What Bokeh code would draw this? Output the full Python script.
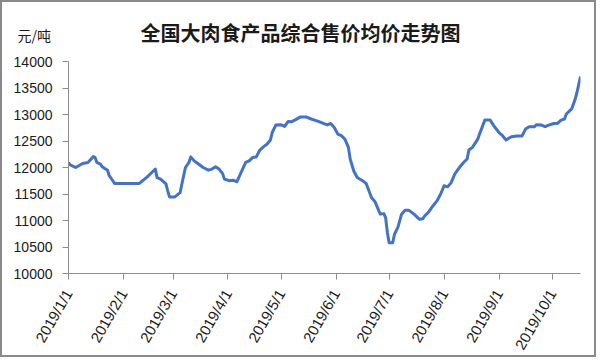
import pandas as pd
from bokeh.plotting import figure
from bokeh.models import Range1d, FixedTicker, CustomJSTickFormatter, Label, ColumnDataSource
from bokeh.embed import file_html
from bokeh.resources import INLINE

title_text = "全国大肉食产品综合售价均价走势图"
unit_text = "元/吨"

dates = [
    "2019-01-01", "2019-01-02", "2019-01-05", "2019-01-09", "2019-01-12", "2019-01-15",
    "2019-01-16", "2019-01-17", "2019-01-19", "2019-01-20", "2019-01-23", "2019-01-24",
    "2019-01-26", "2019-01-27", "2019-02-10", "2019-02-14", "2019-02-17", "2019-02-19",
    "2019-02-20", "2019-02-22", "2019-02-25", "2019-02-26", "2019-02-27", "2019-03-02",
    "2019-03-05", "2019-03-06", "2019-03-08", "2019-03-10", "2019-03-11", "2019-03-13",
    "2019-03-15", "2019-03-18", "2019-03-21", "2019-03-23", "2019-03-25", "2019-03-27",
    "2019-03-29", "2019-03-30", "2019-04-02", "2019-04-04", "2019-04-06", "2019-04-08",
    "2019-04-11", "2019-04-13", "2019-04-15", "2019-04-17", "2019-04-19", "2019-04-21",
    "2019-04-23", "2019-04-25", "2019-04-26", "2019-04-28", "2019-05-01", "2019-05-03",
    "2019-05-05", "2019-05-07", "2019-05-09", "2019-05-12", "2019-05-15", "2019-05-18",
    "2019-05-22", "2019-05-27", "2019-05-29", "2019-05-31", "2019-06-02", "2019-06-04",
    "2019-06-06", "2019-06-08", "2019-06-09", "2019-06-11", "2019-06-13", "2019-06-16",
    "2019-06-18", "2019-06-20", "2019-06-21", "2019-06-23", "2019-06-25", "2019-06-26",
    "2019-06-28", "2019-06-29", "2019-06-30", "2019-07-01", "2019-07-03", "2019-07-04",
    "2019-07-06", "2019-07-08", "2019-07-10", "2019-07-12", "2019-07-15", "2019-07-18",
    "2019-07-20", "2019-07-21", "2019-07-23", "2019-07-25", "2019-07-28", "2019-07-30",
    "2019-08-01", "2019-08-03", "2019-08-05", "2019-08-07", "2019-08-10", "2019-08-12",
    "2019-08-14", "2019-08-15", "2019-08-17", "2019-08-20", "2019-08-21", "2019-08-24",
    "2019-08-27", "2019-08-29", "2019-09-01", "2019-09-03", "2019-09-05", "2019-09-08",
    "2019-09-11", "2019-09-14", "2019-09-16", "2019-09-18", "2019-09-21", "2019-09-22",
    "2019-09-25", "2019-09-27", "2019-09-29", "2019-10-02", "2019-10-04", "2019-10-06",
    "2019-10-08", "2019-10-09", "2019-10-12", "2019-10-14", "2019-10-15", "2019-10-17",
]

prices = [
    12090, 12050, 12000, 12075, 12095, 12205,
    12190, 12095, 12065, 12015, 11950, 11845,
    11750, 11700, 11700, 11810, 11905, 11970,
    11810, 11780, 11690, 11560, 11445, 11445,
    11525, 11690, 12000, 12095, 12200, 12125,
    12075, 12000, 11950, 11970, 12015, 11970,
    11885, 11780, 11750, 11760, 11730, 11875,
    12095, 12125, 12190, 12200, 12330, 12390,
    12440, 12520, 12660, 12800, 12805, 12775,
    12870, 12865, 12900, 12955, 12955, 12915,
    12870, 12805, 12830, 12755, 12630, 12600,
    12535, 12380, 12160, 11935, 11810, 11750,
    11700, 11525, 11435, 11355, 11195, 11120,
    11130, 11055, 10770, 10580, 10580, 10740,
    10880, 11120, 11195, 11195, 11120, 11025,
    11035, 11085, 11150, 11245, 11370, 11495,
    11655, 11635, 11715, 11875, 12015, 12095,
    12160, 12330, 12380, 12535, 12630, 12895,
    12895, 12790, 12660, 12600, 12520, 12580,
    12595, 12595, 12725, 12770, 12770, 12805,
    12800, 12770, 12800, 12830, 12830, 12895,
    12915, 13010, 13105, 13290, 13415, 13715,
]

month_ticks = ["2019-01-01", "2019-02-01", "2019-03-01", "2019-04-01", "2019-05-01",
               "2019-06-01", "2019-07-01", "2019-08-01", "2019-09-01", "2019-10-01"]
y_ticks = [10000, 10500, 11000, 11500, 12000, 12500, 13000, 13500, 14000]
x_start, x_end = "2019-01-01", "2019-10-17"

src = ColumnDataSource(dict(x=pd.to_datetime(dates), y=prices))

p = figure(width=596, height=357, x_axis_type="datetime", title=None,
           output_backend="svg", toolbar_location=None,
           x_range=Range1d(pd.Timestamp(x_start), pd.Timestamp(x_end)),
           y_range=Range1d(y_ticks[0], y_ticks[-1]),
           min_border_left=66, min_border_right=18, min_border_top=59, min_border_bottom=86)
p.styles = {"border": "2px solid #8a8a8a"}
p.outline_line_color = None
p.background_fill_color = "white"
p.border_fill_color = "white"
p.xgrid.visible = False
p.ygrid.visible = False

p.add_layout(Label(x=232, y=29, x_units="screen", y_units="screen",
                   text=title_text, text_align="center", text_baseline="middle",
                   text_font="Noto Sans CJK SC", text_font_size="20px",
                   text_font_style="bold", text_color="#1a1a1a"), "above")
p.add_layout(Label(x=-51, y=-2, x_units="screen", y_units="screen",
                   text=unit_text, text_align="left", text_baseline="middle",
                   text_font="Noto Sans CJK SC", text_font_size="14px",
                   text_color="#1a1a1a"), "above")

p.line("x", "y", source=src, line_color="#4472C4", line_width=3, line_join="round")

axis_col = "#8c8c8c"
tick_ms = [pd.Timestamp(t).value // 10**6 for t in month_ticks]
p.xaxis.ticker = FixedTicker(ticks=tick_ms)
p.xaxis.formatter = CustomJSTickFormatter(code="""
const d = new Date(tick);
return d.getUTCFullYear() + '/' + (d.getUTCMonth() + 1) + '/' + d.getUTCDate();
""")
p.xaxis.major_label_orientation = 1.047
p.yaxis.ticker = FixedTicker(ticks=y_ticks)
for ax in (p.xaxis, p.yaxis):
    ax.axis_line_color = axis_col
    ax.major_tick_line_color = axis_col
    ax.major_tick_out = 6
    ax.major_tick_in = 0
    ax.minor_tick_line_color = None
    ax.major_label_text_font = "Liberation Sans"
    ax.major_label_text_color = "#1a1a1a"
p.yaxis.major_label_text_font_size = "14px"
p.xaxis.major_label_text_font_size = "15px"
p.yaxis.major_label_standoff = 10
p.xaxis.major_label_standoff = 11

open("out.html", "w").write(file_html(p, INLINE))
